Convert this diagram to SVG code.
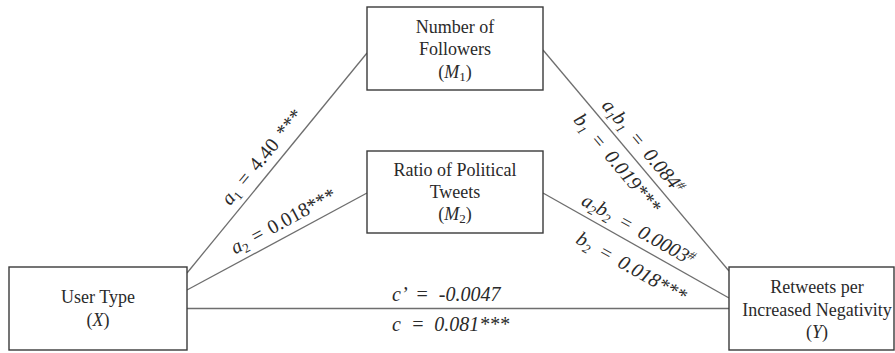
<svg xmlns="http://www.w3.org/2000/svg" width="895" height="353" viewBox="0 0 895 353">
<style>
.box{fill:#fff;stroke:#3a3a3a;stroke-width:1.4}
.ln{stroke:#6e6e6e;stroke-width:1.3;fill:none}
.nt{font-family:"Liberation Serif","Times New Roman",serif;font-size:18px;fill:#2a2a2a;text-anchor:middle}
.lb{font-family:"Liberation Serif","Times New Roman",serif;font-size:20px;fill:#2a2a2a;word-spacing:4px}
.it{font-style:italic}
.sub{font-size:13px}
</style>
<rect width="895" height="353" fill="#fff"/>
<g id="connectors">
<line class="ln" x1="187" y1="273" x2="367" y2="53"/>
<line class="ln" x1="187" y1="290" x2="367" y2="193"/>
<line class="ln" x1="187" y1="308.5" x2="729" y2="308.5"/>
<line class="ln" x1="543" y1="50" x2="729" y2="271"/>
<line class="ln" x1="543" y1="193" x2="729" y2="298"/>
</g>
<g id="node-m1">
<rect class="box" x="367" y="7" width="176" height="83"/>
<text class="nt" x="455" y="33">Number of</text>
<text class="nt" x="455" y="55">Followers</text>
<text class="nt" x="455" y="78">(<tspan class="it">M</tspan><tspan class="sub" dy="3">1</tspan><tspan dy="-3">)</tspan></text>
</g>
<g id="node-m2">
<rect class="box" x="367" y="151" width="176" height="82"/>
<text class="nt" x="455" y="176">Ratio of Political</text>
<text class="nt" x="455" y="198">Tweets</text>
<text class="nt" x="455" y="220">(<tspan class="it">M</tspan><tspan class="sub" dy="3">2</tspan><tspan dy="-3">)</tspan></text>
</g>
<g id="node-x">
<rect class="box" x="9" y="267" width="178" height="83"/>
<text class="nt" x="98" y="303">User Type</text>
<text class="nt" x="98" y="326">(<tspan class="it">X</tspan>)</text>
</g>
<g id="node-y">
<rect class="box" x="729" y="267" width="165" height="83"/>
<text class="nt" x="817" y="293">Retweets per</text>
<text class="nt" x="817" y="315.5">Increased Negativity</text>
<text class="nt" x="817" y="338">(<tspan class="it">Y</tspan>)</text>
</g>
<g id="labels">
<text class="lb" style="word-spacing:3px" transform="translate(230.1,206.2) rotate(-50.71)"><tspan class="it">a</tspan><tspan class="sub" dy="4">1</tspan><tspan dy="-4"> = 4.40 ***</tspan></text>
<text class="lb" style="word-spacing:2px" transform="translate(234.9,254.5) rotate(-28.32)"><tspan class="it">a</tspan><tspan class="sub" dy="4">2</tspan><tspan dy="-4"> = 0.018***</tspan></text>
<text class="lb it" transform="translate(600.9,105.9) rotate(49.92)">a<tspan class="sub" dy="4">1</tspan><tspan dy="-4">b</tspan><tspan class="sub" dy="4">1</tspan><tspan dy="-4"> = 0.084</tspan><tspan class="sub" dy="-6">#</tspan></text>
<text class="lb it" transform="translate(572.8,120.3) rotate(49.92)">b<tspan class="sub" dy="4">1</tspan><tspan dy="-4"> = 0.019***</tspan></text>
<text class="lb it" transform="translate(580.3,204.2) rotate(29.44)">a<tspan class="sub" dy="4">2</tspan><tspan dy="-4">b</tspan><tspan class="sub" dy="4">2</tspan><tspan dy="-4"> = 0.0003</tspan><tspan class="sub" dy="-6">#</tspan></text>
<text class="lb it" transform="translate(574.8,242.5) rotate(29.44)">b<tspan class="sub" dy="4">2</tspan><tspan dy="-4"> = 0.018***</tspan></text>
<text class="lb it" x="392" y="301" style="word-spacing:5px">c’ = -0.0047</text>
<text class="lb it" x="392" y="331" style="word-spacing:5px">c = 0.081***</text>
</g>
</svg>
